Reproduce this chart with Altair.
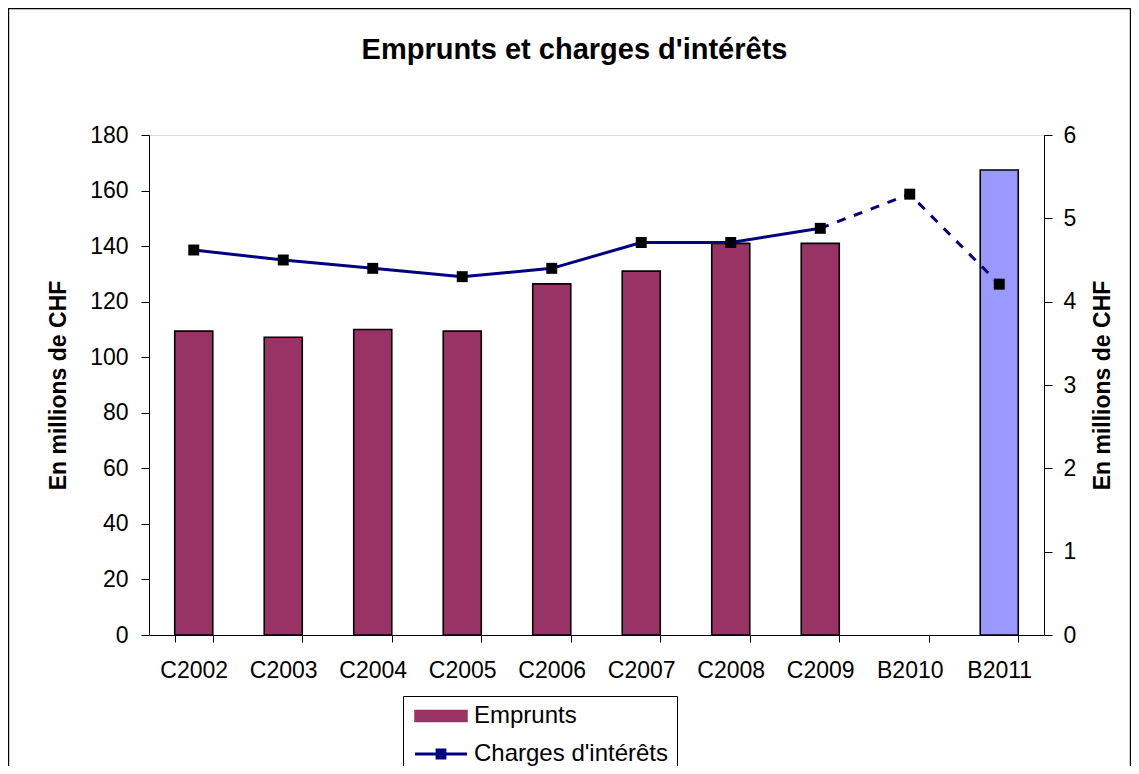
import altair as alt
import pandas as pd

# ---- data ----
categories = ["C2002", "C2003", "C2004", "C2005", "C2006", "C2007", "C2008", "C2009", "B2010", "B2011"]
emprunts = [109.4, 107.2, 110.0, 109.4, 126.4, 131.0, 141.0, 141.0, None, 167.4]
charges = [4.62, 4.50, 4.40, 4.30, 4.40, 4.71, 4.71, 4.88, 5.29, 4.21]
left_ticks = [0, 20, 40, 60, 80, 100, 120, 140, 160, 180]
right_ticks = [0, 1, 2, 3, 4, 5, 6]
series_names = ["Emprunts", "Charges d'intérêts"]
series_colors = ["#993366", "#000080"]
budget_bar_color = "#9999FF"
budget_bar_category = "B2011"
last_actual_index = 7  # C2009: line is solid up to here, dashed afterwards
chart_title = "Emprunts et charges d'intérêts"
axis_title = "En millions de CHF"

FONT = "Liberation Sans"
FS = 23

bars_df = pd.DataFrame({"cat": categories, "val": emprunts, "serie": series_names[0]})
line_df = pd.DataFrame({"cat": categories, "val": charges, "serie": series_names[1]})
solid_df = line_df.iloc[: last_actual_index + 1]
dashed_df = line_df.iloc[last_actual_index:]

x_enc = alt.X(
    "cat:N",
    sort=categories,
    scale=alt.Scale(domain=categories, paddingInner=0.575, paddingOuter=0.2875),
    axis=alt.Axis(
        title=None, labelAngle=0, tickBand="extent", tickSize=7, tickColor="black",
        domainColor="black", labelPadding=17, labelFontSize=FS, labelColor="black",
        labelFont=FONT,
    ),
)

color_scale = alt.Scale(domain=series_names, range=series_colors)

is_bar = "datum.value === 'Emprunts'"
legend = alt.Legend(
    title=None,
    orient="none",
    legendX=254,
    legendY=561,
    direction="vertical",
    symbolSize=676,
    symbolOffset=18,
    labelOffset=21,
    labelFont=FONT,
    labelFontSize=24,
    labelColor="black",
    labelLimit=400,
    rowPadding=14,
    padding=8,
    strokeColor="black",
    fillColor="white",
    symbolType={"expr": f"{is_bar} ? 'M-2,-0.42H2V0.42H-2Z' : 'M-2,0H2M-0.3,-0.3H0.3V0.3H-0.3Z'"},
    symbolFillColor={"expr": f"{is_bar} ? '#993366' : '#000000'"},
    symbolStrokeColor={"expr": f"{is_bar} ? '#000000' : '#000080'"},
    symbolStrokeWidth={"expr": f"{is_bar} ? 1.5 : 3"},
    symbolOpacity=1,
)

frame = alt.Chart(pd.DataFrame({"a": [0]})).mark_rect(
    filled=False, stroke="black", strokeWidth=1.2
).encode(
    x=alt.value(-140.4), x2=alt.value(981.4), y=alt.value(-126.4), y2=alt.value(700)
)

bars = alt.Chart(bars_df).mark_bar(stroke="black", strokeWidth=1.6).encode(
    x=x_enc,
    y=alt.Y(
        "val:Q",
        scale=alt.Scale(domain=[0, 180], nice=False),
        axis=alt.Axis(
            title=axis_title, values=left_ticks, grid=False, tickSize=8, tickColor="black",
            domainColor="black", labelPadding=13, labelFontSize=FS, labelColor="black",
            labelFont=FONT, titleFont=FONT, titleFontSize=FS, titleFontWeight="bold",
            titleColor="black", titleAngle=270, titleX=-91, titleY=250,
            titleAlign="center", titleBaseline="middle",
        ),
    ),
    color=alt.condition(
        alt.datum.cat == budget_bar_category,
        alt.value(budget_bar_color),
        alt.Color("serie:N", scale=color_scale, legend=legend),
    ),
)

y_right = alt.Y(
    "val:Q",
    scale=alt.Scale(domain=[0, 6], nice=False),
    axis=alt.Axis(
        title=axis_title, orient="right", values=right_ticks, grid=False, tickSize=8,
        tickColor="black", domainColor="black", labelPadding=11, labelFontSize=FS,
        labelColor="black", labelFont=FONT, titleFont=FONT, titleFontSize=FS,
        titleFontWeight="bold", titleColor="black", titleAngle=270, titleX=58, titleY=250,
        titleAlign="center", titleBaseline="middle",
    ),
)

solid = alt.Chart(solid_df).mark_line(strokeWidth=3).encode(
    x=x_enc, y=y_right, color=alt.Color("serie:N", scale=color_scale, legend=legend)
)
dashed = alt.Chart(dashed_df).mark_line(strokeWidth=3, strokeDash=[9, 9]).encode(
    x=x_enc, y=y_right, color=alt.Color("serie:N", scale=color_scale, legend=legend)
)
points = alt.Chart(line_df).mark_point(
    shape="square", filled=True, size=120, color="black", opacity=1
).encode(x=x_enc, y=y_right)

lines = alt.layer(solid, dashed, points)

chart = (
    alt.layer(frame, bars, lines)
    .resolve_scale(y="independent")
    .properties(
        width=895,
        height=500,
        autosize=alt.AutoSizeParams(type="none"),
        padding={"left": 141, "top": 127, "right": 87, "bottom": 131},
        title=alt.TitleParams(
            chart_title, font=FONT, fontSize=29, fontWeight="bold", color="black",
            anchor="middle", frame="group", offset=-57, dx=-22,
        ),
    )
    .configure_view(stroke="#808080", strokeWidth=1)
    .configure(font=FONT)
)

chart.save("out.html", embed_options={"renderer": "svg", "actions": False})
